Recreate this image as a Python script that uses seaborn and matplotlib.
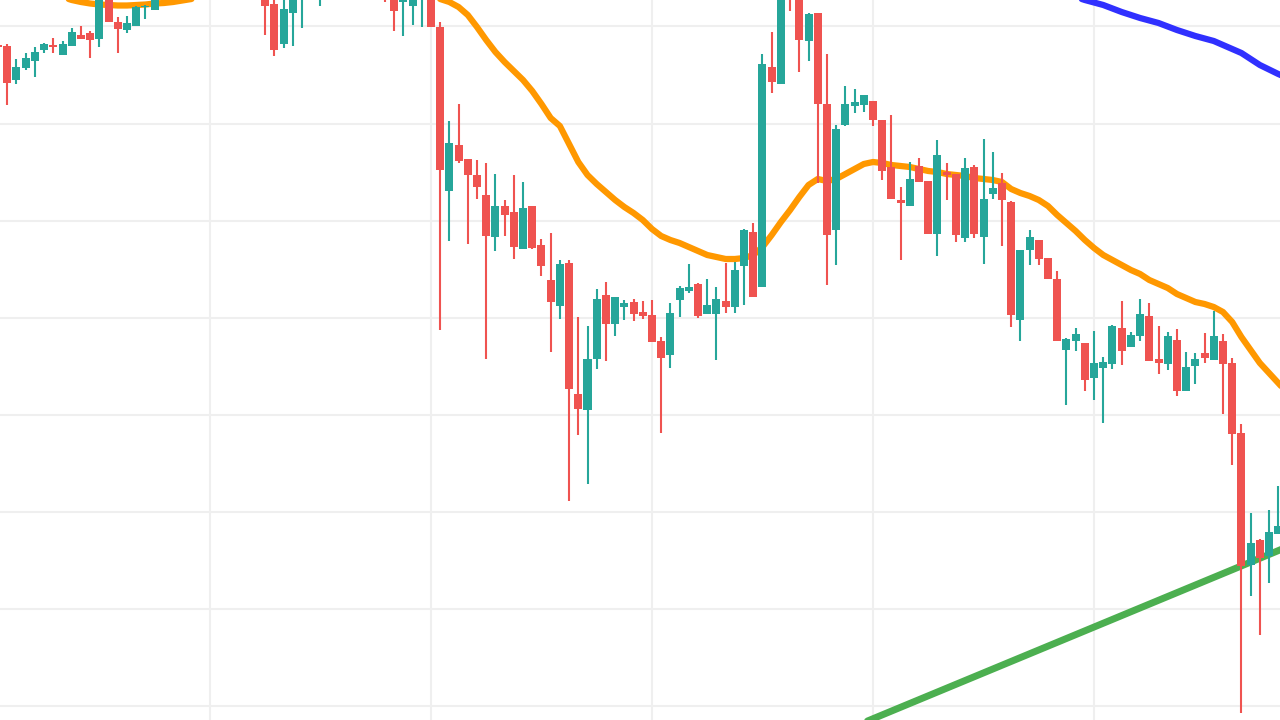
import numpy as np
import pandas as pd
import matplotlib
matplotlib.use("Agg")
import matplotlib.pyplot as plt
import seaborn as sns

# ---- candle data (first candle index = -1) ----
first_index = -1
opens = [675, 674, 640, 652, 659, 670, 675, 665, 674, 685, 687, 681, 723, 698, 690, 694, 713, 710,
         722, 731, 738, 734, 745, 752, 748, 756, 750, 742, 737, 725, 716, 676, 707, 724, 733, 728,
         738, 745, 742, 748, 741, 736, 730, 723, 718, 714, 723, 725, 693, 529, 575, 561, 545, 525,
         483, 514, 508, 471, 514, 475, 440, 414, 457, 326, 310, 361, 425, 396, 413, 418, 408, 405,
         379, 365, 420, 429, 436, 406, 406, 419, 413, 454, 488, 433, 653, 636, 745, 723, 679, 707,
         616, 490, 595, 614, 615, 619, 600, 553, 520, 514, 554, 539, 486, 548, 546, 482, 553, 483,
         526, 537, 518, 400, 470, 480, 462, 441, 370, 379, 377, 342, 352, 356, 392, 373, 384, 404,
         361, 356, 380, 329, 354, 367, 360, 379, 357, 287, 155, 180, 164, 186]
highs = [676, 676, 661, 667, 673, 677, 682, 679, 692, 694, 689, 728, 726, 703, 704, 714, 715, 725,
         736, 744, 745, 750, 758, 760, 763, 762, 754, 748, 741, 730, 723, 723, 726, 738, 746, 742,
         751, 752, 755, 752, 746, 740, 735, 728, 730, 728, 735, 730, 698, 599, 616, 561, 560, 557,
         546, 520, 545, 538, 514, 481, 487, 460, 460, 403, 394, 431, 438, 423, 420, 421, 419, 420,
         383, 417, 434, 456, 437, 441, 433, 457, 458, 491, 497, 666, 688, 730, 750, 728, 707, 707,
         666, 595, 634, 631, 625, 619, 600, 605, 533, 558, 562, 539, 580, 557, 546, 562, 555, 581,
         568, 547, 519, 470, 490, 480, 462, 449, 382, 392, 377, 389, 363, 395, 419, 388, 421, 417,
         394, 388, 391, 368, 367, 387, 409, 386, 362, 296, 207, 181, 210, 234]
lows = [672, 615, 636, 650, 643, 667, 667, 665, 674, 681, 662, 673, 698, 667, 687, 694, 701, 710,
        721, 727, 729, 731, 740, 742, 744, 741, 735, 730, 722, 685, 664, 672, 674, 692, 726, 714,
        731, 735, 737, 733, 728, 724, 718, 689, 684, 695, 693, 693, 390, 479, 557, 476, 521, 361,
        469, 484, 461, 471, 471, 444, 368, 401, 219, 285, 236, 351, 359, 384, 400, 399, 401, 378,
        287, 352, 403, 427, 402, 406, 360, 407, 407, 415, 423, 433, 627, 636, 709, 648, 659, 537,
        435, 455, 594, 607, 608, 594, 540, 521, 460, 514, 538, 486, 464, 520, 478, 478, 482, 456,
        521, 474, 393, 379, 455, 455, 441, 379, 315, 369, 329, 320, 297, 351, 355, 373, 379, 359,
        346, 350, 324, 329, 336, 357, 360, 306, 255, 7, 124, 85, 137, 186]
closes = [673, 637, 653, 662, 668, 676, 673, 676, 688, 681, 680, 723, 698, 691, 697, 713, 714, 722,
          731, 738, 734, 745, 752, 748, 756, 750, 742, 737, 726, 714, 670, 711, 722, 733, 740, 738,
          745, 742, 748, 741, 736, 730, 724, 709, 725, 723, 730, 693, 550, 577, 559, 545, 533, 484,
          514, 505, 473, 512, 472, 454, 418, 456, 331, 311, 361, 421, 396, 423, 417, 406, 404, 378,
          362, 407, 432, 433, 404, 415, 421, 413, 450, 490, 423, 656, 638, 725, 725, 680, 706, 616,
          485, 591, 616, 618, 625, 600, 549, 521, 517, 541, 538, 486, 565, 545, 485, 552, 486, 521,
          532, 520, 405, 470, 483, 461, 441, 379, 381, 386, 340, 357, 358, 394, 369, 385, 406, 359,
          357, 384, 329, 353, 361, 362, 384, 356, 286, 154, 177, 162, 188, 194]

# ---- moving average (orange), first index = 3; NaN = above the visible area, not read ----
nan = float("nan")
ma_first_index = 3
ma_values = [740, 733, 726, 723, 720, 718, 716.5, 715.5, 715, 714.5, 714.5, 715, 715.5, 716.5,
             717, 718, 719.5, 721, 724, 729,
             nan, nan, nan, nan, nan, nan, nan, nan, nan, nan, nan, nan, nan, nan, nan, nan,
             nan, nan, nan, nan, nan, nan,
             727, 724, 721, 718, 713, 705, 693, 680, 668, 658, 649, 640, 629, 616, 602, 594,
             576, 558, 545, 536, 528, 520, 513, 507, 500, 491, 484, 480, 477, 473, 469, 465,
             463, 461, 461, 462, 465, 473, 485, 498, 510, 523, 535, 541, 539, 541, 546, 551,
             556, 558, 557, 555, 554, 553, 551, 549, 548, 546, 545, 544, 542, 541, 540, 538,
             531, 527, 524, 520, 514, 505, 497, 489, 480, 472, 465, 460, 455, 450, 446, 440,
             436, 432, 426, 422, 418, 416, 413, 408, 398, 383, 370, 357, 347, 337, 327]

# ---- long moving average (blue) ----
long_ma_index = [115, 117, 119, 121, 123, 125, 127, 129, 131, 132, 134, 136, 138, 140]
long_ma_values = [726, 720, 715, 708, 702, 697, 690, 684, 679, 675, 667, 655, 646, 638]

# ---- trend line (green) ----
trend_index = [90, 140]
trend_values = [-14, 177]

# ---- grid positions ----
x_grid = [22, 46, 70, 94, 118]
y_grid = [13.9, 111.0, 208.1, 305.2, 402.3, 499.4, 596.5, 693.6]

UP = "#26a69a"
DOWN = "#ef5350"

sns.set_theme(style="white")
plt.rcParams["font.family"] = ["DejaVu Sans"]

fig = plt.figure(figsize=(12.8, 7.2), dpi=100)
ax = fig.add_axes([0, 0, 1, 1])

df = pd.DataFrame({"open": opens, "high": highs, "low": lows, "close": closes})
df["idx"] = np.arange(first_index, first_index + len(df))
df["up"] = df["close"] >= df["open"]
df["bottom"] = df[["open", "close"]].min(axis=1)
df["height"] = (df["close"] - df["open"]).abs().clip(lower=1.5)
colors = np.where(df["up"], UP, DOWN)

ma = pd.DataFrame({"idx": np.arange(ma_first_index, ma_first_index + len(ma_values)),
                   "value": np.array(ma_values, dtype=float)})
ma["segment"] = ma["value"].isna().cumsum()
ma = ma.dropna()
long_ma = pd.DataFrame({"idx": long_ma_index, "value": long_ma_values})
trend = pd.DataFrame({"idx": trend_index, "value": trend_values})

sns.lineplot(data=ma, x="idx", y="value", units="segment", estimator=None, ax=ax,
             color="#ff9800", linewidth=4.5, zorder=2)
sns.lineplot(data=long_ma, x="idx", y="value", estimator=None, ax=ax,
             color="#3030ff", linewidth=4.5, zorder=2)
sns.lineplot(data=trend, x="idx", y="value", estimator=None, ax=ax,
             color="#4caf50", linewidth=5.0, zorder=2)

ax.vlines(df["idx"], df["low"], df["high"], colors=colors, linewidth=1.5, zorder=3)
ax.bar(df["idx"], df["height"], bottom=df["bottom"], width=0.87, color=colors,
       linewidth=0, zorder=4)

ax.set_xlim(-0.79, 138.19)
ax.set_ylim(0, 720)
ax.set_xticks(x_grid)
ax.set_yticks(y_grid)
ax.grid(True, color="#efefef", linewidth=1.5, zorder=0)
ax.set_axisbelow(True)
ax.tick_params(length=0, labelleft=False, labelbottom=False)
ax.set_xlabel("")
ax.set_ylabel("")
for s in ax.spines.values():
    s.set_visible(False)

fig.savefig("out.png", dpi=100)
